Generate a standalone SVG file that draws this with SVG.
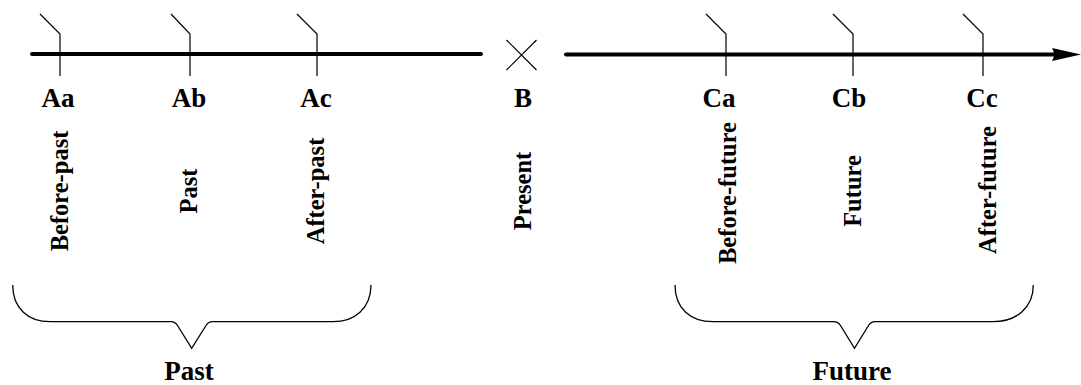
<svg xmlns="http://www.w3.org/2000/svg" width="1081" height="385" viewBox="0 0 1081 385">
  <style>
    .axis { stroke: #000; stroke-width: 4; stroke-linecap: round; fill: none; }
    .tick { stroke: #000; stroke-width: 1.2; fill: none; }
    .brace { stroke: #000; stroke-width: 1.3; fill: none; }
    .lbl { font-family: "Liberation Serif", "Times New Roman", serif; font-weight: bold; font-size: 24.5px; fill: #000; text-anchor: middle; }
    .big { font-size: 27px; }
  </style>
  <rect width="1081" height="385" fill="#fff"/>

  <!-- timeline axes -->
  <g id="connectors">
    <line class="axis" x1="32" y1="54" x2="481" y2="54"/>
    <line class="axis" x1="566" y1="54.5" x2="1056" y2="54.5"/>
    <path d="M1052,48 L1081,54.5 L1052,61 Q1056,54.5 1052,48 Z" fill="#000"/>
  </g>

  <!-- past markers -->
  <g id="node-Aa">
    <polyline class="tick" points="40,14 60,34 60,76"/>
    <text class="lbl big" x="58" y="107">Aa</text>
    <text class="lbl" transform="translate(67.5,191) rotate(-90)">Before-past</text>
  </g>
  <g id="node-Ab">
    <polyline class="tick" points="171,14 190,34 190,76"/>
    <text class="lbl big" x="189" y="107">Ab</text>
    <text class="lbl" transform="translate(197,191) rotate(-90)">Past</text>
  </g>
  <g id="node-Ac">
    <polyline class="tick" points="297,14 317,34 317,76"/>
    <text class="lbl big" x="316" y="107">Ac</text>
    <text class="lbl" transform="translate(323.5,191) rotate(-90)">After-past</text>
  </g>

  <!-- present -->
  <g id="node-B">
    <line class="tick" x1="506.5" y1="40" x2="536.5" y2="70"/>
    <line class="tick" x1="536.5" y1="40" x2="506.5" y2="70"/>
    <text class="lbl big" x="523" y="107">B</text>
    <text class="lbl" transform="translate(530.5,191) rotate(-90)">Present</text>
  </g>

  <!-- future markers -->
  <g id="node-Ca">
    <polyline class="tick" points="706,14 726,34 726,76"/>
    <text class="lbl big" x="719" y="107">Ca</text>
    <text class="lbl" transform="translate(735.5,193) rotate(-90)">Before-future</text>
  </g>
  <g id="node-Cb">
    <polyline class="tick" points="833,14 853,34 853,76"/>
    <text class="lbl big" x="849" y="107">Cb</text>
    <text class="lbl" transform="translate(860.5,191) rotate(-90)">Future</text>
  </g>
  <g id="node-Cc">
    <polyline class="tick" points="963,14 983,34 983,76"/>
    <text class="lbl big" x="982" y="107">Cc</text>
    <text class="lbl" transform="translate(995.5,190) rotate(-90)">After-future</text>
  </g>

  <!-- grouping braces -->
  <g id="group-past">
    <path class="brace" d="M12.7,285 C12.7,308 28,321.7 50,321.7 L171,321.7 Q175,321.7 177.5,325.5 L191.7,348.3 L206,325.5 Q208.5,321.7 212.5,321.7 L333,321.7 C355,321.7 371,308 371,285"/>
    <text class="lbl big" x="189" y="380">Past</text>
  </g>
  <g id="group-future">
    <path class="brace" d="M675,285 C675,308 690,321.7 713,321.7 L834,321.7 Q838,321.7 840.5,325.5 L854.5,348.3 L868.5,325.5 Q871,321.7 875,321.7 L993,321.7 C1016,321.7 1033.3,308 1033.3,285"/>
    <text class="lbl big" x="852" y="380">Future</text>
  </g>
</svg>
